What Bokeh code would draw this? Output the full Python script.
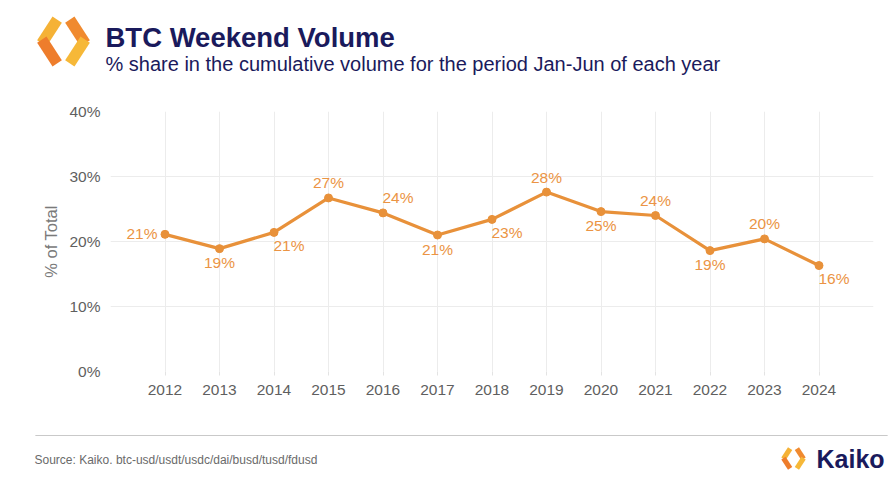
import math
from bokeh.plotting import figure
from bokeh.models import ColumnDataSource, Range1d, FixedTicker, PrintfTickFormatter, Label
from bokeh.core.properties import value
from bokeh.embed import file_html
from bokeh.resources import INLINE

# ---------------- data ----------------
years = [2012, 2013, 2014, 2015, 2016, 2017, 2018, 2019, 2020, 2021, 2022, 2023, 2024]
weekend_share = [21.1, 18.9, 21.4, 26.7, 24.4, 21.0, 23.4, 27.6, 24.6, 24.0, 18.6, 20.4, 16.3]
share_labels = ["21%", "19%", "21%", "27%", "24%", "21%", "23%", "28%", "25%", "24%", "19%", "20%", "16%"]
y_ticks = [0, 10, 20, 30, 40]

title_text = "BTC Weekend Volume"
subtitle_text = "% share in the cumulative volume for the period Jan-Jun of each year"
source_text = "Source: Kaiko. btc-usd/usdt/usdc/dai/busd/tusd/fdusd"
brand_text = "Kaiko"
y_title = "% of Total"

# label placement (style)
label_pos = ["left", "below", "below-right", "above", "above-right", "below", "below-right",
             "above", "below", "above", "below", "above", "below-right"]
pos_offsets = {"left": (-23, -1), "below": (0, 14), "below-right": (15, 13),
               "above": (0, -15), "above-right": (15, -15)}

FONT = "Liberation Sans"
NAVY = "#1a1a5c"
ORANGE = "#e8913a"

dx = [pos_offsets[q][0] for q in label_pos]
dy = [pos_offsets[q][1] for q in label_pos]
src = ColumnDataSource(dict(year=years, share=weekend_share, label=share_labels, dx=dx, dy=dy))

p = figure(width=891, height=482, x_range=Range1d(years[0] - 1, years[-1] + 1), y_range=Range1d(0, 40),
           output_backend="svg", toolbar_location=None,
           min_border_left=110, min_border_right=18, min_border_top=111, min_border_bottom=111)
p.outline_line_color = None
p.background_fill_color = "white"
p.border_fill_color = "white"

p.xaxis.ticker = FixedTicker(ticks=years)
p.xgrid.ticker = FixedTicker(ticks=list(range(years[0] - 1, years[-1] + 2)))
p.yaxis.ticker = FixedTicker(ticks=y_ticks)
p.yaxis.formatter = PrintfTickFormatter(format="%d%%")
p.grid.grid_line_color = "#ececec"
p.grid.grid_line_width = 1

for ax in (p.xaxis, p.yaxis):
    ax.axis_line_color = None
    ax.major_label_text_font = FONT
    ax.major_label_text_font_size = "15.5px"
    ax.major_label_text_color = "#5f5f5f"
    ax.minor_tick_line_color = None
p.xaxis.major_tick_line_color = "#e3e3e3"
p.xaxis.major_tick_in = 0
p.xaxis.major_tick_out = 4
p.xaxis.major_label_standoff = 9
p.yaxis.major_tick_line_color = None
p.yaxis.major_tick_in = 0
p.yaxis.major_tick_out = 0
p.yaxis.major_label_standoff = 10
p.yaxis.axis_label = y_title
p.yaxis.axis_label_text_font = FONT
p.yaxis.axis_label_text_font_style = "normal"
p.yaxis.axis_label_text_font_size = "16.5px"
p.yaxis.axis_label_text_color = "#7a7a7a"
p.yaxis.axis_label_standoff = 6

p.line("year", "share", source=src, line_color=ORANGE, line_width=3.2)
p.scatter("year", "share", source=src, size=8, fill_color=ORANGE, line_color=ORANGE)
p.text("year", "share", text="label", source=src, x_offset="dx", y_offset="dy",
       text_align="center", text_baseline="middle", text_font=value(FONT),
       text_font_size="15.5px", text_color="#eb9444")

# ---------------- decorations (canvas units, in side panels) ----------------
def box(x, y, w, h, color, angle, place):
    # padding tuple is (horizontal, vertical)
    p.add_layout(Label(x=x, y=y, x_units="canvas", y_units="canvas", text=" ",
                       text_font_size="1px", text_align="center", text_baseline="middle",
                       padding=(max(int(round(w / 2)), 0), max(int(round(h / 2)), 0)),
                       angle=angle, background_fill_color=color, background_fill_alpha=1.0,
                       border_line_color=None), place)

def add_logo(cx, cy, s, place):
    a = math.radians(57)
    arms = [(-14, -10, a, "#f5b236"), (-14, 10, -a, "#ee7d2c"),
            (14, -10, -a, "#f08a2f"), (14, 10, a, "#f6b838")]
    for ox, oy, ang, c in arms:
        box(cx + ox * s, cy + oy * s, 27 * s, 10 * s, c, ang, place)

p.add_layout(Label(x=105, y=37, x_units="canvas", y_units="canvas", text=title_text,
                   text_font=FONT, text_font_style="bold", text_font_size="27.5px",
                   text_color=NAVY, text_baseline="middle"), "above")
p.add_layout(Label(x=105, y=63, x_units="canvas", y_units="canvas", text=subtitle_text,
                   text_font=FONT, text_font_size="20px", text_color=NAVY, text_baseline="middle"), "above")
add_logo(63, 41, 1.0, "above")

box(461, 435, 851, 1, "#c9c9c9", 0, "below")
p.add_layout(Label(x=34, y=459, x_units="canvas", y_units="canvas", text=source_text,
                   text_font=FONT, text_font_size="12px", text_color="#6a6a6a", text_baseline="middle"), "below")
p.add_layout(Label(x=816, y=458, x_units="canvas", y_units="canvas", text=brand_text,
                   text_font=FONT, text_font_style="bold", text_font_size="25px",
                   text_color=NAVY, text_baseline="middle"), "below")
add_logo(793, 458, 0.48, "below")

open("out.html", "w").write(file_html(p, INLINE))
